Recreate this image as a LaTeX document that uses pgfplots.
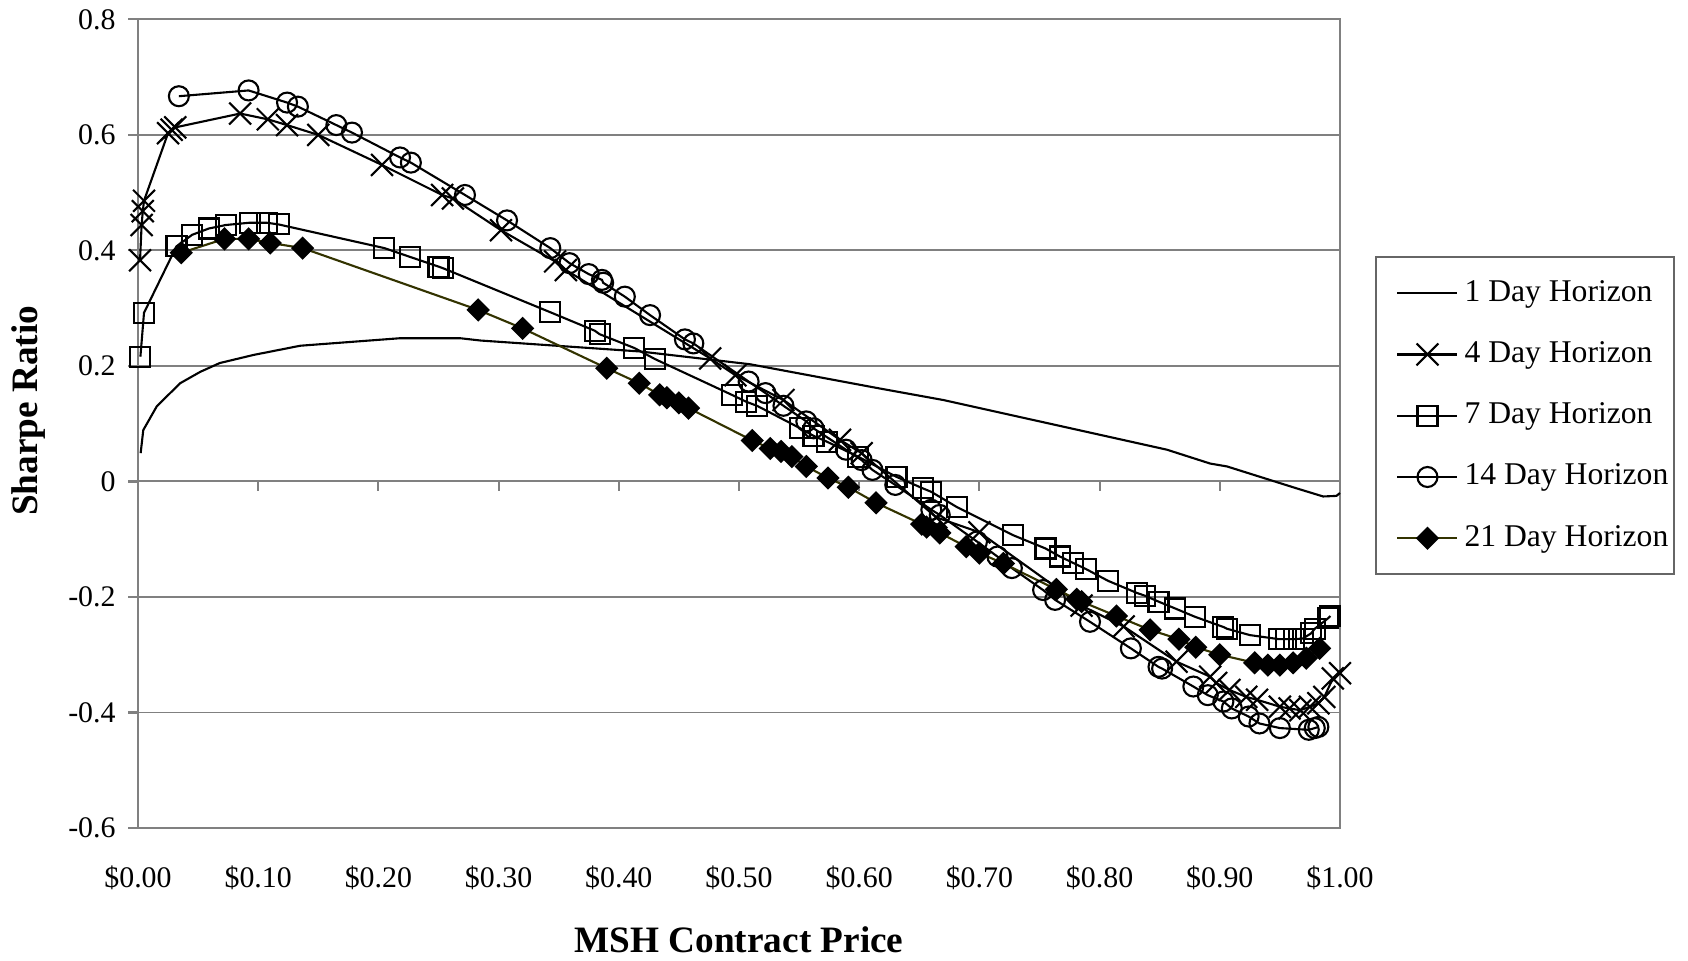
\documentclass[border=0pt]{standalone}
\usepackage{pgfplots}
\pgfplotsset{compat=1.18}
\usepackage{fontspec}
\setmainfont{Liberation Serif}
\definecolor{gridgray}{RGB}{128,128,128}
\definecolor{olivedark}{RGB}{51,51,0}
\pgfplotsset{
  legend image code/.code={%
    \path (-2.05mm,0);
    \draw[mark repeat=2,mark phase=2,#1] plot coordinates {(0cm,0cm) (0.3cm,0cm) (0.6cm,0cm)};
  }
}
\begin{document}
\begin{tikzpicture}
\begin{axis}[
  at={(0,0)}, anchor=south west, scale only axis,
  width=12.02cm, height=8.086cm,
  xmin=0, xmax=1, ymin=-0.6, ymax=0.8,
  clip=false,
  axis line style={gridgray, line width=0.6pt},
  xtick={0,0.1,0.2,0.3,0.4,0.5,0.6,0.7,0.8,0.9,1},
  xticklabels={\$0.00,\$0.10,\$0.20,\$0.30,\$0.40,\$0.50,\$0.60,\$0.70,\$0.80,\$0.90,\$1.00},
  ytick={-0.6,-0.4,-0.2,0,0.2,0.4,0.6,0.8},
  yticklabels={-0.6,-0.4,-0.2,0,0.2,0.4,0.6,0.8},
  xmajorgrids=false,
  ymajorgrids=true,
  major grid style={gridgray, line width=0.55pt},
  xtick style={draw=none},
  ytick style={gridgray, line width=0.6pt},
  ytick pos=left,
  tick align=outside,
  major tick length=1mm,
  ticklabel style={font=\fontsize{8.5}{10}\selectfont},
  xticklabel style={yshift=-1.5mm},
  /pgf/number format/assume math mode=true,
  xlabel={MSH Contract Price}, ylabel={Sharpe Ratio},
  label style={font=\bfseries\fontsize{10.6}{12}\selectfont},
  xlabel style={at={(axis description cs:0.5,-0.1385)}, anchor=center},
  ylabel style={at={(axis description cs:-0.0907,0.516)}, anchor=center},
  legend style={at={(axis description cs:1.029,0.7074)}, anchor=north west,
    draw=black!60, line width=0.6pt, font=\fontsize{9}{11}\selectfont,
    row sep=2.1mm, inner xsep=0mm, inner ysep=1.6mm,
    nodes={inner xsep=0.6mm}},
  legend cell align=left,
]
\addplot[black, line width=0.6pt] coordinates {
(0.0022,0.049)(0.0044,0.089)(0.0156,0.13)(0.035,0.17)(0.052,0.19)(0.068,0.205)(0.096,0.219)(0.135,0.235)(0.218,0.248)(0.268,0.248)(0.285,0.244)(0.418,0.225)(0.509,0.203)(0.617,0.161)(0.67,0.141)(0.856,0.055)(0.892,0.031)(0.906,0.026)(0.964,-0.012)(0.986,-0.026)(0.997,-0.025)(1.0,-0.02)
};
\addlegendentry{1 Day Horizon}
\addplot[black, line width=0.6pt, mark=x, mark size=1.55mm, mark options={solid}] coordinates {
(0.0017,0.383)(0.003,0.444)(0.004,0.468)(0.005,0.486)(0.025,0.603)(0.028,0.609)(0.031,0.613)(0.085,0.637)(0.108,0.627)(0.124,0.617)(0.150,0.600)(0.203,0.548)(0.253,0.496)(0.262,0.490)(0.302,0.435)(0.347,0.381)(0.356,0.366)(0.476,0.213)(0.497,0.184)(0.537,0.141)(0.584,0.072)(0.602,0.049)(0.664,-0.062)(0.700,-0.088)(0.785,-0.215)(0.82,-0.251)(0.864,-0.312)(0.892,-0.338)(0.897,-0.349)(0.908,-0.361)(0.922,-0.373)(0.931,-0.378)(0.950,-0.390)(0.958,-0.393)(0.967,-0.396)(0.975,-0.390)(0.982,-0.384)(0.987,-0.373)(0.994,-0.341)(1.0,-0.332)
};
\addlegendentry{4 Day Horizon}
\addplot[black, line width=0.6pt, mark=square, mark size=1mm, mark options={solid}] coordinates {
(0.002,0.216)(0.005,0.292)(0.032,0.407)(0.045,0.427)(0.059,0.438)(0.073,0.444)(0.093,0.448)(0.107,0.448)(0.117,0.445)(0.205,0.404)(0.226,0.389)(0.250,0.372)(0.254,0.369)(0.343,0.293)(0.380,0.261)(0.384,0.255)(0.413,0.231)(0.430,0.212)(0.494,0.150)(0.506,0.138)(0.515,0.131)(0.551,0.092)(0.562,0.079)(0.573,0.069)(0.599,0.043)(0.631,0.008)(0.653,-0.012)(0.660,-0.018)(0.681,-0.044)(0.728,-0.093)(0.755,-0.116)(0.767,-0.130)(0.778,-0.141)(0.789,-0.152)(0.807,-0.172)(0.831,-0.193)(0.838,-0.198)(0.849,-0.208)(0.863,-0.220)(0.879,-0.234)(0.903,-0.252)(0.906,-0.255)(0.925,-0.266)(0.949,-0.273)(0.955,-0.273)(0.962,-0.273)(0.969,-0.272)(0.976,-0.263)(0.979,-0.255)(0.990,-0.237)(0.992,-0.233)
};
\addlegendentry{7 Day Horizon}
\addplot[black, line width=0.6pt, mark=o, mark size=1mm, mark options={solid}] coordinates {
(0.034,0.667)(0.092,0.677)(0.124,0.656)(0.133,0.649)(0.165,0.617)(0.178,0.604)(0.218,0.561)(0.227,0.552)(0.272,0.496)(0.307,0.452)(0.343,0.404)(0.359,0.378)(0.375,0.359)(0.386,0.349)(0.387,0.344)(0.405,0.320)(0.426,0.288)(0.455,0.246)(0.462,0.239)(0.508,0.173)(0.522,0.153)(0.537,0.131)(0.556,0.104)(0.562,0.092)(0.589,0.055)(0.602,0.037)(0.611,0.020)(0.630,-0.006)(0.660,-0.049)(0.667,-0.058)(0.698,-0.104)(0.715,-0.130)(0.727,-0.150)(0.753,-0.188)(0.763,-0.205)(0.792,-0.243)(0.826,-0.289)(0.849,-0.321)(0.852,-0.324)(0.878,-0.355)(0.890,-0.370)(0.903,-0.381)(0.910,-0.393)(0.924,-0.407)(0.933,-0.419)(0.950,-0.427)(0.974,-0.430)(0.979,-0.427)(0.982,-0.425)
};
\addlegendentry{14 Day Horizon}
\addplot[olivedark, line width=0.6pt, mark=square*, mark size=0.72mm, mark options={solid, black, fill=black, rotate=45}] coordinates {
(0.036,0.396)(0.072,0.420)(0.092,0.420)(0.110,0.413)(0.137,0.404)(0.283,0.297)(0.320,0.265)(0.390,0.196)(0.417,0.170)(0.434,0.150)(0.440,0.145)(0.450,0.136)(0.458,0.127)(0.511,0.071)(0.526,0.057)(0.535,0.052)(0.544,0.043)(0.556,0.026)(0.574,0.006)(0.591,-0.010)(0.614,-0.037)(0.652,-0.074)(0.656,-0.079)(0.667,-0.089)(0.689,-0.113)(0.700,-0.124)(0.720,-0.142)(0.764,-0.187)(0.781,-0.204)(0.785,-0.208)(0.814,-0.233)(0.842,-0.257)(0.866,-0.273)(0.880,-0.287)(0.900,-0.300)(0.929,-0.314)(0.940,-0.318)(0.950,-0.318)(0.961,-0.314)(0.972,-0.306)(0.983,-0.289)
};
\addlegendentry{21 Day Horizon}
\pgfplotsinvokeforeach{0.1,0.2,0.3,0.4,0.5,0.6,0.7,0.8,0.9,1}{
  \draw[gridgray, line width=0.6pt] (axis cs:#1,0) -- ([yshift=-1mm]axis cs:#1,0);
}
\end{axis}
\pgfresetboundingbox
\path[use as bounding box] (-1.38cm,-1.32cm) rectangle (15.50cm,8.28cm);
\end{tikzpicture}
\end{document}
